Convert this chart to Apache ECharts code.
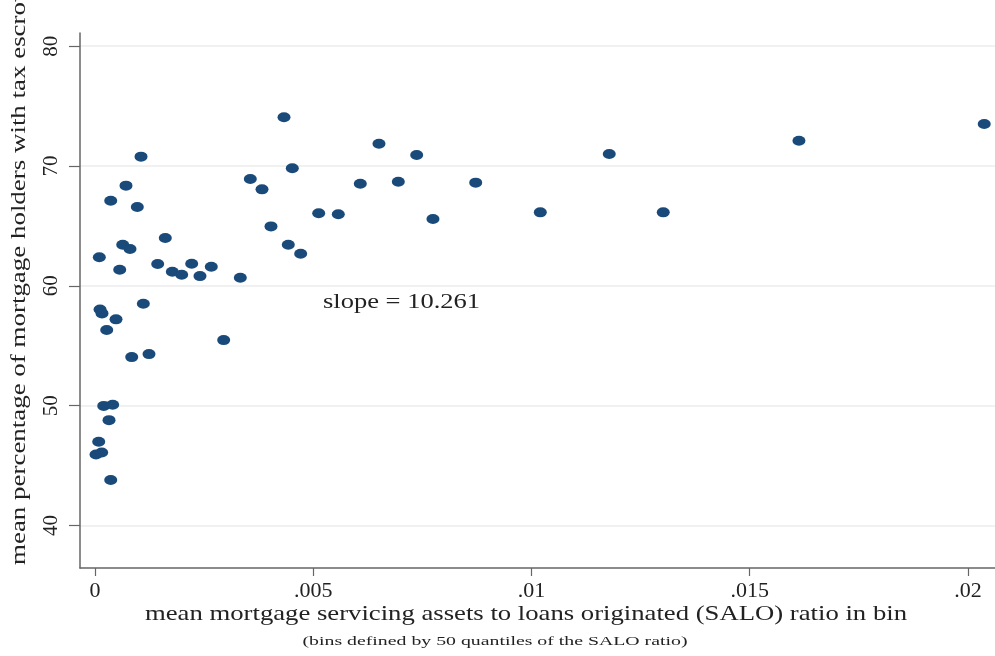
<!DOCTYPE html>
<html>
<head>
<meta charset="utf-8">
<script src="https://cdn.jsdelivr.net/npm/echarts@6/dist/echarts.min.js"></script>
<style>
html,body{margin:0;padding:0;background:#fff;}
#chart{width:995px;height:656px;}
</style>
</head>
<body>
<div id="chart"></div>
<script>
// ---- data ----
const saloRatio = [
  0.001054, 0.00452, 0.003558, 0.003826, 0.00071, 0.00036, 0.000969, 0.004032,
  0.00161, 0.000635, 0.000802, 0.004428, 0.004712, 0.0000985, 0.000566, 0.001436,
  0.001771, 0.001986, 0.002215, 0.002405, 0.002664, 0.003329, 0.001107, 0.000115,
  0.00016, 0.000481, 0.000268, 0.002948, 0.000841, 0.001237, 0.0002, 0.000405,
  0.000321, 0.0000848, 0.0000229, 0.000153, 0.00036, 0.00433, 0.006506, 0.00737,
  0.011782, 0.006078, 0.006949, 0.008722, 0.005125, 0.005574, 0.007743, 0.010202,
  0.013019, 0.016128, 0.020373
];
const pctEscrow = [
  70.78, 69.81, 68.91, 68.05, 68.36, 67.10, 66.58, 64.96,
  63.99, 63.43, 63.07, 63.43, 62.68, 62.38, 61.34, 61.82,
  61.17, 60.92, 61.84, 60.81, 61.59, 60.67, 58.50, 58.03,
  57.70, 57.20, 56.31, 55.47, 54.05, 54.30, 49.98, 50.07,
  48.79, 46.98, 45.92, 46.09, 43.80, 74.07, 71.86, 70.92,
  71.00, 68.52, 68.69, 68.61, 66.05, 65.97, 65.57, 66.13,
  66.13, 72.11, 73.51
];
const xTickValues = [0, 0.005, 0.01, 0.015, 0.02];
const xTickLabels = ['0', '.005', '.01', '.015', '.02'];
const yTickValues = [40, 50, 60, 70, 80];
const yTickLabels = ['40', '50', '60', '70', '80'];
const xTitle = 'mean mortgage servicing assets to loans originated (SALO) ratio in bin';
const xSubtitle = '(bins defined by 50 quantiles of the SALO ratio)';
const yTitleFull = 'mean percentage of mortgage holders with tax escrow';
const yTitleVisible = 'mean percentage of mortgage holders with tax escro';
const slopeText = 'slope = 10.261';

// ---- helpers ----
const FONT = "'Liberation Serif', 'Times New Roman', serif";
const mctx = document.createElement('canvas').getContext('2d');
function measure(text, size) {
  mctx.font = size + 'px ' + FONT;
  return mctx.measureText(text).width;
}

const chart = echarts.init(document.getElementById('chart'), null, {renderer: 'canvas'});

const xTitleSize = 21, subSize = 13.5, yTitleSize = 21, slopeSize = 20;
const xTitleScale = 762 / measure(xTitle, xTitleSize);
const subScale = 385 / measure(xSubtitle, subSize);
const yTitleScale = 563 / measure(yTitleVisible, yTitleSize);
const slopeScale = 157 / measure(slopeText, slopeSize);

const option = {
  backgroundColor: '#ffffff',
  animation: false,
  grid: {left: 80, top: 33, right: 0, bottom: 88, containLabel: false},
  xAxis: {
    type: 'value',
    min: -0.000344,
    max: 0.02062,
    axisLine: {onZero: false, lineStyle: {color: '#666666', width: 1.5}},
    axisTick: {show: true, length: 8, lineStyle: {color: '#666666', width: 1.2}, customValues: xTickValues},
    axisLabel: {
      customValues: xTickValues,
      formatter: function (v) {
        const i = xTickValues.findIndex(t => Math.abs(t - v) < 1e-9);
        return i >= 0 ? xTickLabels[i] : '';
      },
      fontFamily: FONT, fontSize: 22, color: '#222222', margin: 12
    },
    splitLine: {show: false}
  },
  yAxis: {
    type: 'value',
    min: 36.45,
    max: 81.1,
    axisLine: {show: true, onZero: false, lineStyle: {color: '#666666', width: 1.5}},
    axisTick: {show: true, length: 11, lineStyle: {color: '#666666', width: 1.2}, customValues: yTickValues},
    axisLabel: {
      customValues: yTickValues,
      rotate: 90,
      formatter: function (v) {
        const i = yTickValues.findIndex(t => Math.abs(t - v) < 1e-9);
        return i >= 0 ? yTickLabels[i] : '';
      },
      fontFamily: FONT, fontSize: 21, color: '#222222', margin: 18
    },
    splitLine: {show: true, lineStyle: {color: '#ececec', width: 1.5}}
  },
  series: [{
    type: 'scatter',
    data: saloRatio.map((x, i) => [x, pctEscrow[i]]),
    symbol: 'circle',
    symbolSize: [13, 10],
    itemStyle: {color: '#1a4a7a', opacity: 1},
    z: 5
  }],
  graphic: [
    {
      type: 'text', x: 526, y: 614, scaleX: xTitleScale,
      style: {text: xTitle, font: xTitleSize + 'px ' + FONT, fill: '#222222', align: 'center', verticalAlign: 'middle'}
    },
    {
      type: 'text', x: 495, y: 641, scaleX: subScale,
      style: {text: xSubtitle, font: subSize + 'px ' + FONT, fill: '#222222', align: 'center', verticalAlign: 'middle'}
    },
    {
      type: 'text', x: 19, y: 565, rotation: Math.PI / 2, scaleX: yTitleScale,
      style: {text: yTitleFull, font: yTitleSize + 'px ' + FONT, fill: '#222222', align: 'left', verticalAlign: 'middle'}
    },
    {
      type: 'text', x: 323, y: 303, scaleX: slopeScale,
      style: {text: slopeText, font: slopeSize + 'px ' + FONT, fill: '#222222', align: 'left', verticalAlign: 'middle'}
    }
  ]
};
chart.setOption(option);
</script>
</body>
</html>
